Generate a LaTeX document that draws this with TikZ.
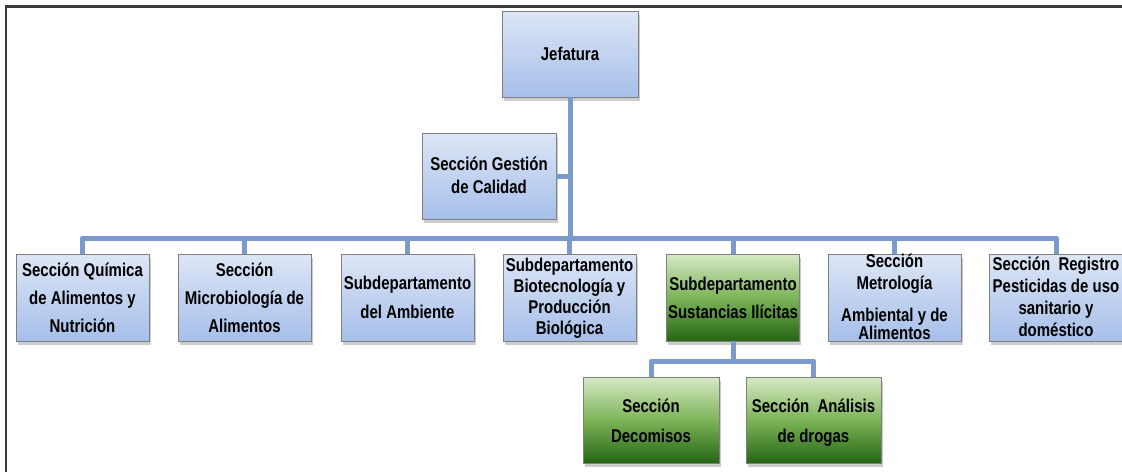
\documentclass[tikz,border=0pt]{standalone}
\usepackage{fontspec}
\newfontfamily\boxfont{Liberation Sans}[FakeStretch=0.81]
\usetikzlibrary{shadows}
\definecolor{bluetop}{HTML}{DDE6F5}
\definecolor{bluebot}{HTML}{A6BFEA}
\definecolor{greentop}{HTML}{D6E9C6}
\definecolor{greenmid}{HTML}{7DB458}
\definecolor{greenbot}{HTML}{256614}
\definecolor{linkc}{HTML}{7B9ACC}
\definecolor{boxline}{HTML}{7F7F7F}
\definecolor{framec}{HTML}{3A3A3A}
\newcommand\bt[2]{\makebox[0pt]{\smash{\raisebox{-5.5pt}{\fontsize{18.5}{#1}\selectfont\begin{tabular}{@{}c@{}}#2\end{tabular}}}}}
\tikzset{
  unit/.style={rectangle, draw=boxline, line width=0.8pt, inner sep=0pt,
    minimum width=133pt, minimum height=87pt,
    font=\boxfont\bfseries,
    drop shadow={shadow xshift=1.5pt, shadow yshift=-4pt, opacity=0.4}},
  bluebox/.style={unit, top color=bluetop, bottom color=bluebot},
  greenbox/.style={unit, top color=greentop, bottom color=greenbot, middle color=greenmid},
  link/.style={draw=linkc, line width=5pt, line join=round},
  framel/.style={draw=framec, line width=2.8pt}
}
\begin{document}
\begin{tikzpicture}[x=1pt, y=-1pt]
\useasboundingbox (0,0) rectangle (1122,472);
\draw[framel] (6,472) -- (6,6.5) -- (1122,6.5);

\node[bluebox, minimum width=136pt, minimum height=86pt] (jef) at (570,54) {\bt{25pt}{Jefatura}};
\node[bluebox, minimum width=134pt, minimum height=86pt] (ges) at (489,176) {\bt{23pt}{Sección Gestión\\de Calidad}};

\node[bluebox] (b1) at (82.5,297.5) {\bt{28pt}{Sección Química\\de Alimentos y\\Nutrición}};
\node[bluebox] (b2) at (244.5,297.5) {\bt{28pt}{Sección\\Microbiología de\\Alimentos}};
\node[bluebox] (b3) at (407.5,297.5) {\bt{29pt}{Subdepartamento\\del Ambiente}};
\node[bluebox] (b4) at (569.5,297.5) {\bt{21pt}{Subdepartamento\\Biotecnología y\\Producción\\Biológica}};
\node[greenbox] (b5) at (733,297.5) {\bt{28pt}{Subdepartamento\\Sustancias Ilícitas}};
\node[bluebox] (b6) at (894.5,297.5) {\bt{22pt}{Sección\\Metrología\\[10pt]Ambiental y de\\[-4pt]Alimentos}};
\node[bluebox] (b7) at (1056,297.5) {\bt{22pt}{Sección~ Registro\\Pesticidas de uso\\sanitario y\\doméstico}};

\node[greenbox, minimum width=136pt, minimum height=86pt] (c1) at (651,420) {\bt{30pt}{Sección\\Decomisos}};
\node[greenbox, minimum width=135pt, minimum height=86pt] (c2) at (813.5,420) {\bt{30pt}{Sección~ Análisis\\de drogas}};

\coordinate (bar) at (570,238);
\coordinate (sub) at (733,361);

\draw[link] (jef.south) -- (jef.south |- bar);
\draw[link] (ges.east) -- (ges.east -| jef.south);
\draw[link] (b1.north) -- (b1.north |- bar) -- (b7.north |- bar) -- (b7.north);
\foreach \n in {b2,b3,b4,b5,b6}{\draw[link] (\n.north) -- (\n.north |- bar);}
\draw[link] (b5.south) -- (b5.south |- sub);
\draw[link] (c1.north) -- (c1.north |- sub) -- (c2.north |- sub) -- (c2.north);
\end{tikzpicture}
\end{document}
